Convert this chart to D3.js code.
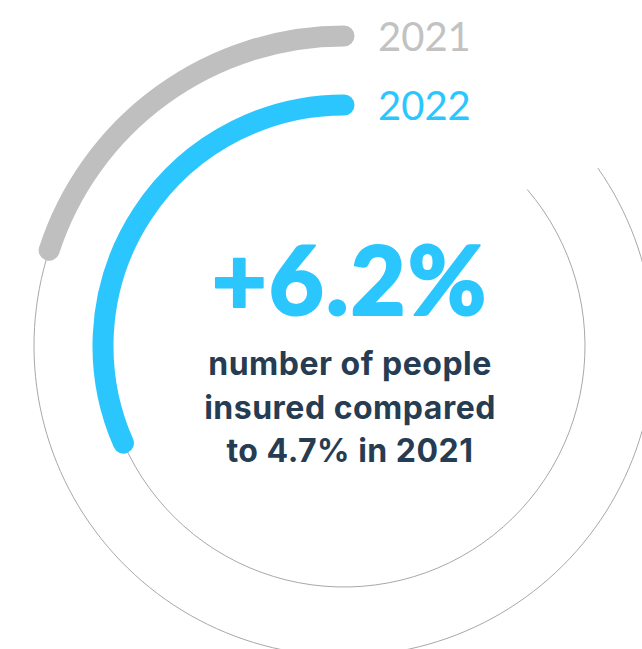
<!DOCTYPE html>
<html>
<head>
<meta charset="utf-8">
<script src="https://cdn.jsdelivr.net/npm/d3@7/dist/d3.min.js"></script>
<style>
  html, body { margin: 0; padding: 0; background: #ffffff; }
  svg { display: block; }
</style>
</head>
<body>
<svg id="chart" width="642" height="649"></svg>
<script>
// ---- data ----
const years = ["2021", "2022"];
const growth = [4.7, 6.2];            // % growth in number of people insured
const arcShare = [20.0, 31.6];        // share of the full ring filled by each arc (%)
const headline = "+6.2%";
const captionLines = ["number of people", "insured compared", "to 4.7% in 2021"];

// ---- layout ----
const W = 642, H = 649;
const cx = 344, cy = 346;
const ringRadius = d3.scaleOrdinal().domain(years).range([310, 241]);
const trackStartDeg = d3.scaleOrdinal().domain(years).range([55, 49.5]);
const thickness = 21;
const colors = d3.scaleOrdinal().domain(years).range(["#bfbfbf", "#2bc6fe"]);
const labelColors = d3.scaleOrdinal().domain(years).range(["#c2c2c2", "#2bc6fe"]);
const angle = d3.scaleLinear().domain([0, 100]).range([0, 2 * Math.PI]);
const deg = d3.scaleLinear().domain([0, 360]).range([0, 2 * Math.PI]);

const svg = d3.select("#chart");
const g = svg.append("g").attr("transform", `translate(${cx},${cy})`);

const data = years.map((y, i) => ({ year: y, growth: growth[i], share: arcShare[i] }));

// centre-line arc (angles clockwise from 12 o'clock, like d3.arc)
function centreArc(r, a0, a1) {
  const p = d3.path();
  const s0 = a0 - Math.PI / 2, s1 = a1 - Math.PI / 2;
  p.moveTo(r * Math.cos(s0), r * Math.sin(s0));
  p.arc(0, 0, r, s0, s1, false);
  return p.toString();
}

// thin track circles (the unfilled part of each ring)
g.selectAll("path.track")
  .data(data)
  .join("path")
  .attr("class", "track")
  .attr("d", d => centreArc(ringRadius(d.year), deg(trackStartDeg(d.year)), 2 * Math.PI - angle(d.share)))
  .attr("fill", "none")
  .attr("stroke", "#a8a8a8")
  .attr("stroke-width", 1);

// thick filled arcs, from 12 o'clock counter-clockwise, rounded ends
g.selectAll("path.bar")
  .data(data)
  .join("path")
  .attr("class", "bar")
  .attr("d", d => centreArc(ringRadius(d.year), 2 * Math.PI - angle(d.share), 2 * Math.PI))
  .attr("fill", "none")
  .attr("stroke", d => colors(d.year))
  .attr("stroke-width", thickness)
  .attr("stroke-linecap", "round");

// year labels next to arc ends
g.selectAll("text.year")
  .data(data)
  .join("text")
  .attr("class", "year")
  .attr("x", 34)
  .attr("y", d => -ringRadius(d.year) + 14.5)
  .attr("font-family", "Lato, 'Open Sans', sans-serif")
  .attr("font-weight", 400)
  .attr("font-size", 40)
  .attr("fill", d => labelColors(d.year))
  .text(d => d.year);

// headline
g.append("text")
  .attr("x", 6)
  .attr("y", -31)
  .attr("text-anchor", "middle")
  .attr("font-family", "Lato, sans-serif")
  .attr("font-weight", 900)
  .attr("font-size", 95)
  .attr("letter-spacing", 2)
  .attr("fill", "#2bc6fe")
  .attr("stroke", "#2bc6fe")
  .attr("stroke-width", 2)
  .attr("stroke-linejoin", "round")
  .text(headline);

// caption
g.selectAll("text.caption")
  .data(captionLines)
  .join("text")
  .attr("class", "caption")
  .attr("x", 6)
  .attr("y", (d, i) => 29 + i * 43.5)
  .attr("text-anchor", "middle")
  .attr("font-family", "Inter, Lato, sans-serif")
  .attr("font-weight", 700)
  .attr("font-size", 32)
  .attr("letter-spacing", 0.5)
  .attr("fill", "#263c52")
  .text(d => d);
</script>
</body>
</html>
